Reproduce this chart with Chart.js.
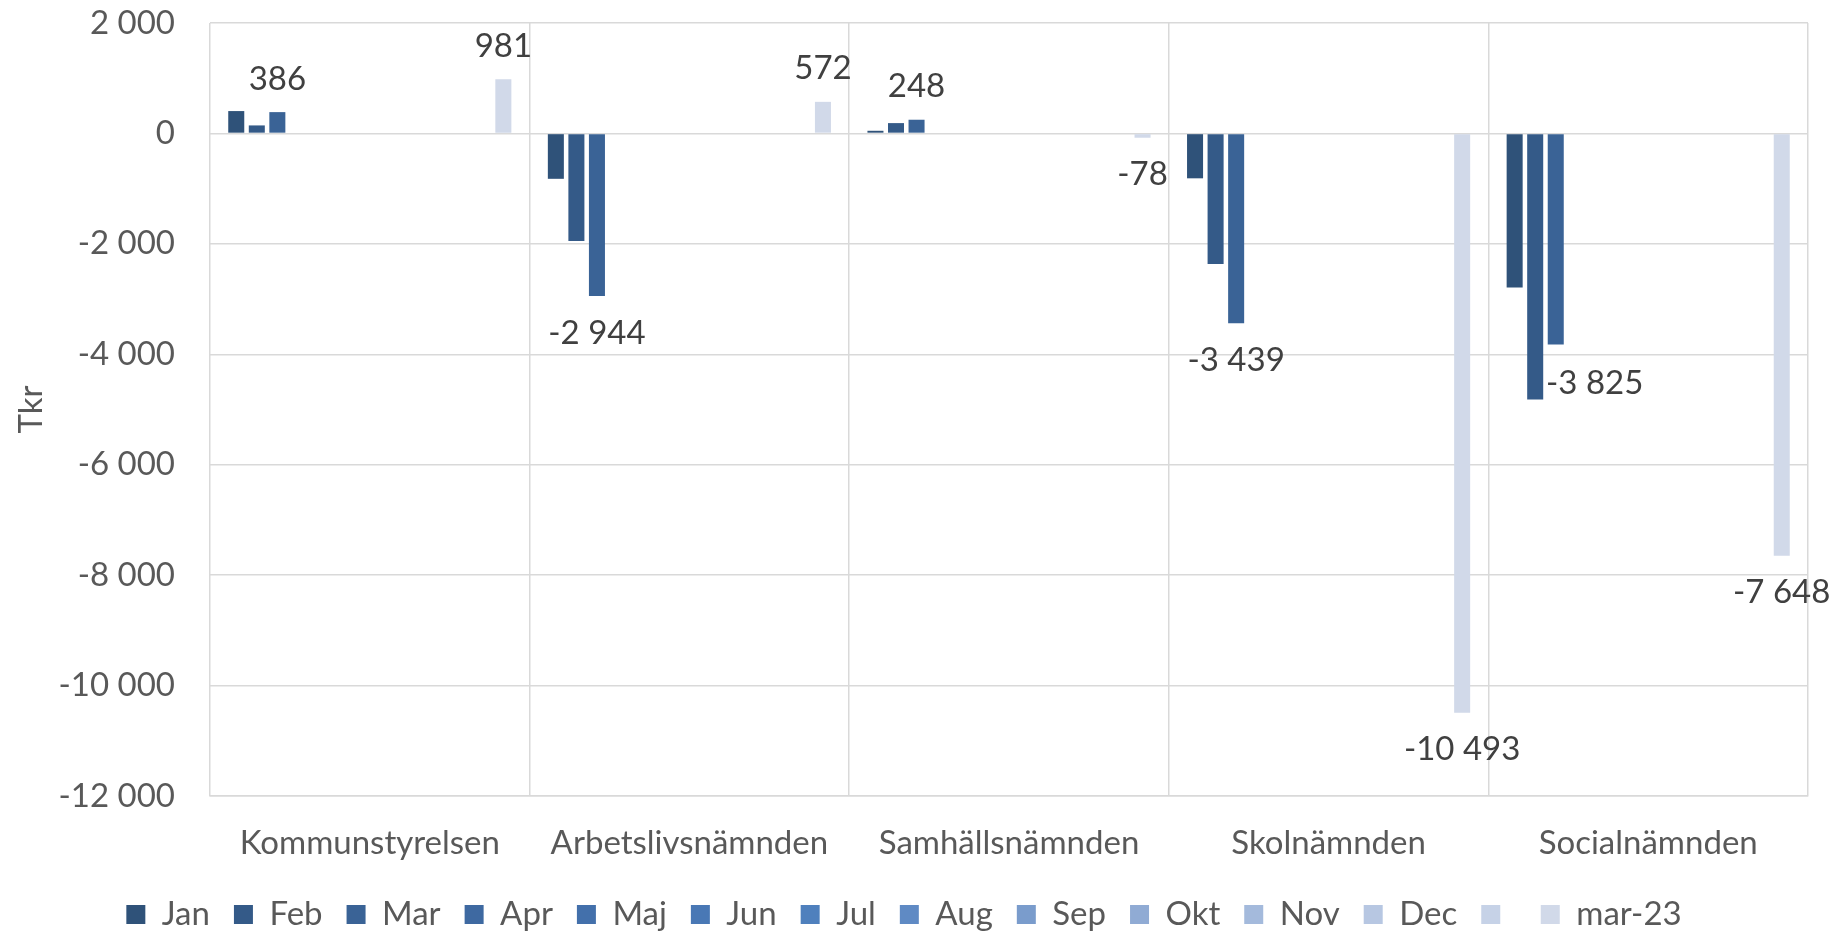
<!DOCTYPE html>
<html>
<head>
<meta charset="utf-8">
<script src="https://cdn.jsdelivr.net/npm/chart.js@4/dist/chart.umd.min.js"></script>
<style>
  html, body { margin: 0; padding: 0; background: #fff; }
  #wrap { width: 1839px; height: 934px; }
</style>
</head>
<body>
<div id="wrap"><canvas id="myChart" width="1839" height="934"></canvas></div>
<script>
// categories
const categories = ["Kommunstyrelsen", "Arbetslivsnämnden", "Samhällsnämnden", "Skolnämnden", "Socialnämnden"];

// series names (legend), the 13th has no name
const seriesNames = ["Jan", "Feb", "Mar", "Apr", "Maj", "Jun", "Jul", "Aug", "Sep", "Okt", "Nov", "Dec", "", "mar-23"];

// values (Tkr)
const jan = [405, -822, 48, -813, -2790];
const feb = [145, -1946, 187, -2367, -4821];
const mar = [386, -2944, 248, -3439, -3825];
const mar23 = [981, 572, -78, -10493, -7648];
const empty = [null, null, null, null, null];

// y ticks
const yMin = -12000;
const yMax = 2000;
const yStep = 2000;

const colors = ["#2f5279", "#345a88", "#3a6396", "#3e69a1", "#4370ab", "#4978b5", "#4f80bd",
                "#5f8ac4", "#7a9ccc", "#90abd4", "#a4badc", "#b7c7e2", "#c6d2e7", "#d1d9e9"];

const seriesValues = [jan, feb, mar, empty, empty, empty, empty, empty, empty, empty, empty, empty, empty, mar23];
const labelledSeries = [2, 13];

function fmt(v) {
    const s = Math.abs(Math.round(v)).toString().replace(/\B(?=(\d{3})+(?!\d))/g, " ");
    return (v < 0 ? "-" : "") + s;
}

const datasets = seriesNames.map((name, i) => ({
    label: name,
    data: seriesValues[i],
    backgroundColor: colors[i],
    borderWidth: 0,
    barPercentage: 0.78,
    categoryPercentage: 0.9
}));

// value labels drawn on top of the bars
const valueLabels = {
    id: "valueLabels",
    afterDatasetsDraw(chart) {
        const ctx = chart.ctx;
        ctx.save();
        ctx.font = "33px Lato";
        ctx.fillStyle = "#404040";
        ctx.textAlign = "center";
        ctx.textBaseline = "middle";
        for (const di of labelledSeries) {
            const meta = chart.getDatasetMeta(di);
            meta.data.forEach((bar, j) => {
                const v = chart.data.datasets[di].data[j];
                if (v === null) return;
                let x = bar.x;
                let y = v >= 0 ? bar.y - 33 : bar.y + 37;
                // Socialnämnden Mar label sits a little to the right in the original
                if (di === 2 && j === 4) { x += 39; y += 2; }
                ctx.fillText(fmt(v), x, y);
            });
        }
        ctx.restore();
    }
};

const config = {
    type: "bar",
    data: { labels: categories, datasets: datasets },
    options: {
        responsive: false,
        animation: false,
        layout: { padding: { left: 0, right: 31, top: 23, bottom: -7 } },
        plugins: {
            legend: {
                position: "bottom",
                labels: {
                    font: { family: "Lato", size: 33 },
                    color: "#595959",
                    boxWidth: 19,
                    boxHeight: 19,
                    padding: 24
                }
            },
            tooltip: { enabled: false }
        },
        scales: {
            x: {
                grid: { color: "#d9d9d9", lineWidth: 1.5, drawTicks: true, tickLength: 28, tickColor: "rgba(0,0,0,0)", offset: true },
                border: { color: "#d9d9d9", width: 1.5 },
                ticks: { font: { family: "Lato", size: 33 }, color: "#595959", padding: 0, maxRotation: 0 },
                afterFit(scale) { scale.height = 78; }
            },
            y: {
                min: yMin,
                max: yMax,
                grid: { color: "#d9d9d9", lineWidth: 1.5, drawTicks: true, tickLength: 35, tickColor: "rgba(0,0,0,0)" },
                border: { display: false },
                ticks: {
                    stepSize: yStep,
                    font: { family: "Lato", size: 33 },
                    color: "#595959",
                    padding: 0,
                    callback: (v) => fmt(v)
                },
                title: {
                    display: true,
                    text: "Tkr",
                    font: { family: "Lato", size: 33 },
                    color: "#595959",
                    padding: { top: 12, bottom: 0 }
                },
                afterFit(scale) { scale.width = 210; }
            }
        }
    },
    plugins: [valueLabels]
};

const mtChart = new Chart(document.getElementById("myChart"), config);
</script>
</body>
</html>
